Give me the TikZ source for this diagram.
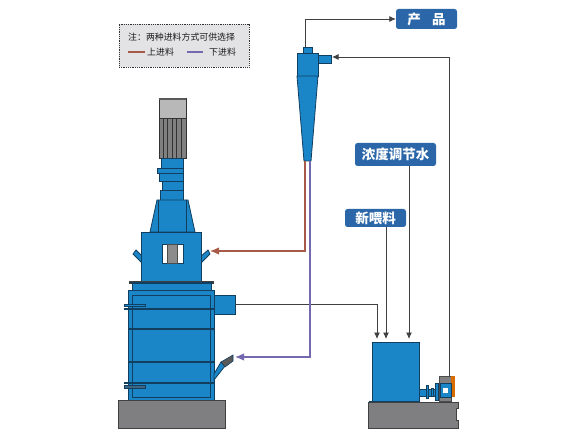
\documentclass[tikz,border=0pt]{standalone}
\usepackage{fontspec}
\setmainfont{Noto Sans CJK SC}
\usepackage{xcolor}
\usetikzlibrary{arrows.meta,positioning,calc}
\definecolor{bodyblue}{HTML}{1A86C8}
\definecolor{edgeblue}{HTML}{123F60}
\definecolor{tagblue}{HTML}{2A66A8}
\definecolor{basegray}{HTML}{7F7F82}
\definecolor{feedup}{HTML}{A85A48}
\definecolor{feeddown}{HTML}{7468AE}
\definecolor{notegray}{HTML}{E3E3E6}

\begin{document}
\begin{tikzpicture}[
  x=1pt, y=-1pt,
  >=Latex,
  vessel/.style={draw=edgeblue, line width=0.8pt, fill=bodyblue},
  band/.style={draw=edgeblue, line width=1.3pt},
  plinth/.style={draw=black!75, line width=0.8pt, fill=basegray},
  tag/.style={
    fill=tagblue,
    rounded corners=2.5pt,
    align=center,
    inner sep=0pt,
    text=white,
    font=\fontsize{13.5}{14}\selectfont\bfseries
  },
  pipe/.style={-{Latex[length=6.5pt,width=6pt]}, line width=0.8pt, black!75},
  pipeup/.style={-{Latex[length=9pt,width=7.5pt]}, line width=1.3pt, feedup},
  pipedown/.style={-{Latex[length=9pt,width=7.5pt]}, line width=1.3pt, feeddown},
  note/.style={font=\fontsize{8.9}{10}\selectfont, text=black!90, inner sep=0pt}
]
  \useasboundingbox (0,0) rectangle (579,441);

  % Legend
  \node[draw=black!80, densely dotted, line width=0.8pt, fill=notegray, minimum width=130pt,
    minimum height=43pt, inner sep=0pt] (legend) at (184,45.5) {};
  \node[note, anchor=west] (legendtext) at (128,37) {注：两种进料方式可供选择};
  \coordinate (upa) at (128,52);
  \coordinate (upb) at (145,52);
  \draw[line width=2pt, feedup] (upa) -- (upb);
  \node[note, anchor=west] (uptext) at (147,52) {上进料};
  \coordinate (downa) at (187,52);
  \coordinate (downb) at (203,52);
  \draw[line width=2pt, feeddown] (downa) -- (downb);
  \node[note, anchor=west] (downtext) at (209,52) {下进料};

  % Motor and drive
  \draw[fill=black!50, draw=black!80, line width=0.8pt] (159,118) rectangle (186,158);
  \foreach \fx in {163,167.5,172,176.5,181}
    \draw[black!80, line width=1pt] (\fx,118) -- (\fx,158);
  \draw[fill=black!28, draw=black!80, line width=0.8pt] (159,98) rectangle (186,118);
  \fill[black!65] (159,98) rectangle (186,100.5);
  \draw[vessel] (161,158) rectangle (183,168);
  \draw[vessel] (157,168) rectangle (183,173);
  \draw[vessel] (159,173) rectangle (183,181);
  \draw[vessel] (162,181) rectangle (183,190);
  \draw[vessel] (160,190) rectangle (183,200);
  \draw[vessel] (157,200) -- (188,200) -- (195,232) -- (150,232) -- cycle;
  \draw[edgeblue, line width=0.8pt] (158,200) -- (158,232) (186,200) -- (186,232);

  % Upper housing
  \draw[vessel] (133,254) -- (136,250) -- (142,256) -- (142,263) -- cycle;
  \draw[vessel] (208,250) -- (210,254) -- (201,263) -- (200,257) -- cycle;
  \draw[vessel] (141,232) rectangle (201,281);
  \draw[draw=edgeblue, line width=0.6pt, fill=white] (162,244) rectangle (183,263);
  \draw[draw=black!70, line width=0.6pt, fill=black!45] (167,244) rectangle (177,263);
  \draw[plinth, fill=edgeblue] (129,281) rectangle (213,283.5);
  \draw[vessel] (132,283.5) rectangle (211,290);

  % Tank
  \draw[vessel] (128,290) rectangle (214,400);
  \draw[edgeblue, line width=0.8pt] (132,295) rectangle (210,397);
  \foreach \by in {309,329,362,383}
    \draw[band] (128,\by) -- (214,\by);
  \draw[draw=edgeblue, line width=0.6pt, fill=bodyblue] (124,304) rectangle (145,306.5);
  \draw[edgeblue, line width=1.8pt] (124,309) -- (128,309);
  \draw[edgeblue, line width=1.8pt] (124,383) -- (128,383);
  \draw[draw=edgeblue, line width=0.6pt, fill=edgeblue!80] (124,385) rectangle (145,388);
  \draw[vessel] (214,295) rectangle (235,314);
  \draw[vessel] (214,374) -- (221,362) -- (225,366) -- (214,380) -- cycle;
  \draw[draw=edgeblue, line width=0.6pt, fill=black!65] (221,362) -- (233,355) -- (233,361) -- (225,367) -- cycle;
  \draw[plinth] (118,400) rectangle (225,428);

  % Cyclone
  \draw[vessel] (303,47) rectangle (312,53);
  \draw[vessel] (318,55) rectangle (331,63);
  \draw[vessel] (297,53) rectangle (318,76);
  \draw[vessel] (297,76) -- (318,76) -- (311,161) -- (304,161) -- cycle;

  % Mixing tank and pump
  \draw[plinth] (368,402) -- (458,402) -- (458,408) -- (456,408) -- (456,420) -- (458,420)
    -- (458,428) -- (368,428) -- cycle;
  \draw[vessel] (372,342) rectangle (419,401);
  \draw[edgeblue, line width=1.4pt] (369,401.5) -- (420,401.5);
  \draw[vessel] (419,389) rectangle (440,396);
  \draw[vessel] (426,385) rectangle (428.5,398);
  \draw[vessel] (431,388) rectangle (433,396);
  \draw[vessel] (435,383) rectangle (438,400);
  \draw[fill=black!50, draw=black!70, line width=0.6pt] (439,376) rectangle (451,401);
  \fill[orange!85!black] (451,376) rectangle (455,397);
  \draw[vessel] (440,383) rectangle (451,397);
  \fill[white] (443,388) rectangle (448,393);

  % Labels
  \node[tag, minimum width=61pt, minimum height=20pt] (product) at (426.5,19) {产\hspace{0.85em}品};
  \node[tag, minimum width=81pt, minimum height=23pt] (water) at (395.5,154.5) {浓度调节水};
  \node[tag, minimum width=61pt, minimum height=18pt] (feed) at (375.5,218) {新喂料};

  % Connector ends
  \coordinate (apex) at (305,47);
  \coordinate (inlet) at (332,57);
  \coordinate (overflow) at (235,304);
  \coordinate (pumpout) at (449,376);
  \coordinate (topout) at (305,161);
  \coordinate (lowout) at (310,161);
  \coordinate (portup) at (210,251);
  \coordinate (portdown) at (235,357);
  \coordinate (tanka) at (377,339);
  \coordinate (tankb) at (386,339);
  \coordinate (tankc) at (409,339);

  \draw[pipe] (apex) |- (product.west);
  \draw[pipe] (pumpout) |- (inlet);
  \draw[pipe] (overflow) -| (tanka);
  \draw[pipe] (feed.south -| tankb) -- (tankb);
  \draw[pipe] (water.south -| tankc) -- (tankc);
  \draw[pipeup] (topout) |- (portup);
  \draw[pipedown] (lowout) |- (portdown);
\end{tikzpicture}
\end{document}
